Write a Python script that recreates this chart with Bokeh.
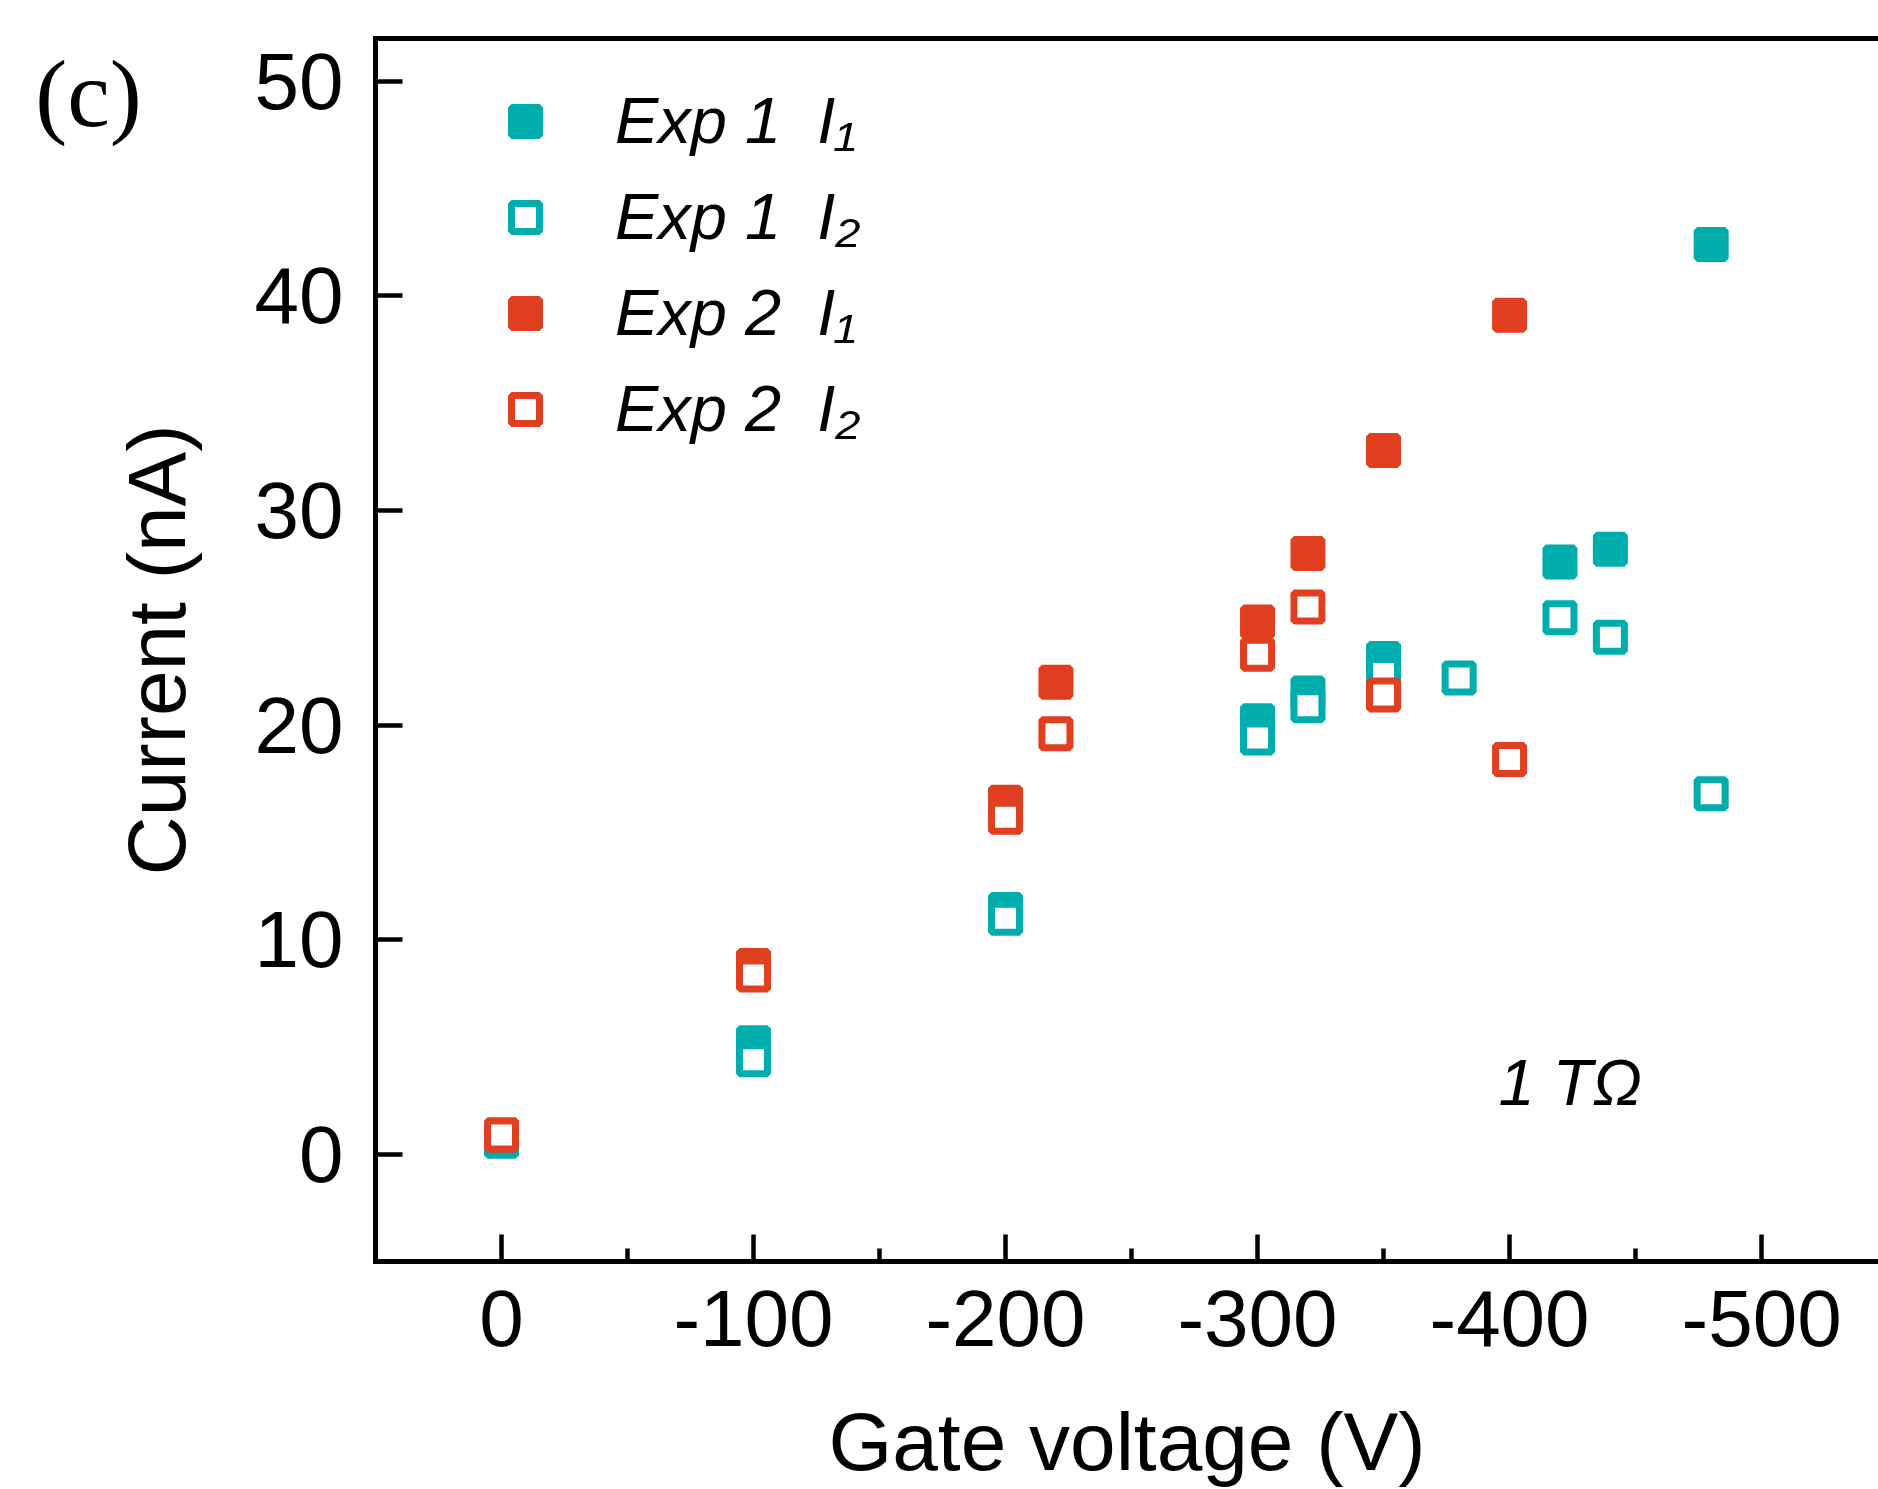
from bokeh.plotting import figure
from bokeh.models import Range1d, FixedTicker, LinearAxis, Legend, LegendItem, Label
from bokeh.embed import file_html
from bokeh.resources import INLINE

# ---------------- data ----------------
v_e1_i1 = [0, -100, -200, -300, -320, -350, -420, -440, -480]
i_e1_i1 = [0.7, 5.2, 11.4, 20.2, 21.5, 23.1, 27.6, 28.2, 42.4]

v_e1_i2 = [0, -100, -200, -300, -320, -350, -380, -420, -440, -480]
i_e1_i2 = [0.6, 4.4, 11.0, 19.4, 20.9, 22.4, 22.2, 25.0, 24.1, 16.8]

v_e2_i1 = [0, -100, -200, -220, -300, -320, -350, -400]
i_e2_i1 = [0.9, 8.8, 16.4, 22.0, 24.8, 28.0, 32.8, 39.1]

v_e2_i2 = [0, -100, -200, -220, -300, -320, -350, -400]
i_e2_i2 = [0.9, 8.35, 15.7, 19.6, 23.3, 25.5, 21.4, 18.4]

x_ticks = [0, -100, -200, -300, -400, -500]
x_tick_labels = ["0", "-100", "-200", "-300", "-400", "-500"]
x_minor_ticks = [-50, -150, -250, -350, -450]
y_ticks = [0, 10, 20, 30, 40, 50]

series_labels = ["Exp 1  I\u2081", "Exp 1  I\u2082", "Exp 2  I\u2081", "Exp 2  I\u2082"]

TEAL = "#00ADAD"
RED = "#E04020"
FONT = "Liberation Sans"

# ---------------- figure ----------------
p = figure(width=1878, height=1489, output_backend="svg", toolbar_location=None,
           x_range=Range1d(50, -546.4), y_range=Range1d(-5, 52),
           min_border_left=371, min_border_top=38, min_border_right=0,
           min_border_bottom=228)
p.outline_line_color = None
p.xgrid.visible = False
p.ygrid.visible = False
p.background_fill_color = "white"
p.border_fill_color = "white"

# bottom axis
xa = p.xaxis[0]
xa.ticker = FixedTicker(ticks=x_ticks, minor_ticks=x_minor_ticks)
xa.major_label_overrides = {t: s for t, s in zip(x_ticks, x_tick_labels)}
xa.axis_line_width = 5
xa.axis_line_cap = "square"
xa.major_tick_in = 27
xa.major_tick_out = 0
xa.minor_tick_in = 13
xa.minor_tick_out = 0
xa.major_tick_line_width = 4.5
xa.minor_tick_line_width = 4.5
xa.major_label_text_font = FONT
xa.major_label_text_font_size = "80px"
xa.major_label_text_color = "black"
xa.major_label_standoff = 29
xa.axis_label = "Gate voltage (V)"
xa.axis_label_text_font = FONT
xa.axis_label_text_font_size = "82px"
xa.axis_label_text_font_style = "normal"
xa.axis_label_text_color = "black"
xa.axis_label_standoff = 47

# left axis
ya = p.yaxis[0]
ya.ticker = FixedTicker(ticks=y_ticks, minor_ticks=[])
ya.axis_line_width = 5
ya.axis_line_cap = "square"
ya.major_tick_in = 27
ya.major_tick_out = 0
ya.minor_tick_in = 0
ya.minor_tick_out = 0
ya.major_tick_line_width = 4.5
ya.major_label_text_font = FONT
ya.major_label_text_font_size = "80px"
ya.major_label_text_color = "black"
ya.major_label_standoff = 32
ya.axis_label = "Current (nA)"
ya.axis_label_text_font = FONT
ya.axis_label_text_font_size = "82px"
ya.axis_label_text_font_style = "normal"
ya.axis_label_text_color = "black"
ya.axis_label_standoff = 50

# top frame line (no ticks)
ta = LinearAxis(ticker=FixedTicker(ticks=[], minor_ticks=[]),
                axis_line_width=5, axis_line_cap="square",
                major_tick_in=0, major_tick_out=0,
                minor_tick_in=0, minor_tick_out=0,
                major_label_text_font_size="0px", major_label_standoff=0)
p.add_layout(ta, "above")

# ---------------- data markers ----------------
r1 = p.scatter(v_e1_i1, i_e1_i1, marker="square", size=28,
               fill_color=TEAL, line_color=TEAL, line_width=7)
r2 = p.scatter(v_e1_i2, i_e1_i2, marker="square", size=28,
               fill_color="white", line_color=TEAL, line_width=7)
r3 = p.scatter(v_e2_i1, i_e2_i1, marker="square", size=28,
               fill_color=RED, line_color=RED, line_width=7)
r4 = p.scatter(v_e2_i2, i_e2_i2, marker="square", size=28,
               fill_color="white", line_color=RED, line_width=7)

legend = Legend(items=[LegendItem(label=lab, renderers=[r])
                       for lab, r in zip(series_labels, [r1, r2, r3, r4])],
                location=(115, 815))
legend.border_line_color = None
legend.background_fill_alpha = 0
legend.padding = 0
legend.margin = 0
legend.spacing = 21
legend.glyph_width = 70
legend.glyph_height = 72
legend.label_height = 72
legend.label_standoff = 55
legend.label_text_font = FONT
legend.label_text_font_style = "italic"
legend.label_text_font_size = "65px"
legend.label_text_color = "black"
p.add_layout(legend)

p.add_layout(Label(x=-395.6, y=3.34, text="1 T\u03a9", text_font=FONT,
                   text_font_style="italic", text_font_size="65px",
                   text_baseline="middle", text_align="left",
                   text_color="black"))

p.add_layout(Label(x=185.0, y=49.45, text="(c)", text_font="Liberation Serif",
                   text_font_size="96px",
                   text_baseline="middle", text_align="left",
                   text_color="black"), "left")

open("out.html", "w").write(file_html(p, INLINE))
